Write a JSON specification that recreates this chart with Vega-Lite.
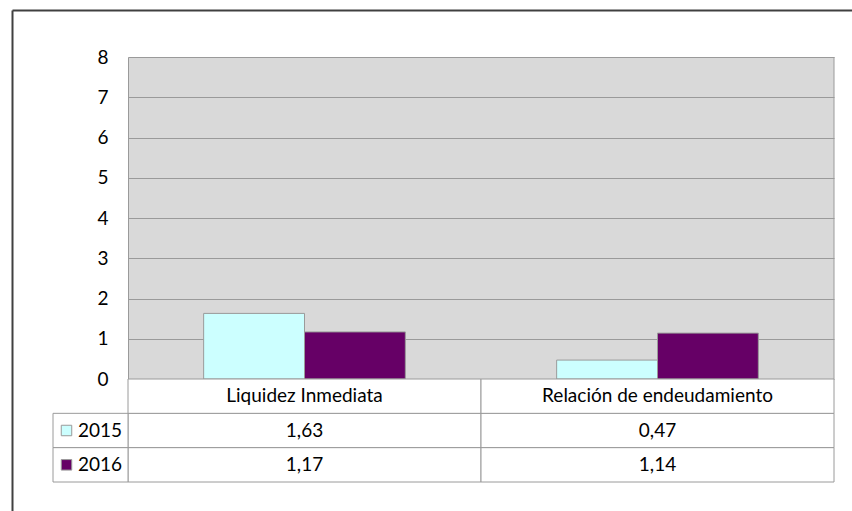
{
  "$schema": "https://vega.github.io/schema/vega-lite/v6.json",
  "width": 840,
  "height": 501,
  "autosize": {"type": "none"},
  "padding": {"left": 12, "top": 10, "right": 0, "bottom": 0},
  "background": "white",
  "config": {
    "view": {"stroke": null, "fill": "white"},
    "font": "Lato",
    "locale": {"number": {"decimal": ",", "thousands": ".", "grouping": [3], "currency": ["", " €"]}},
    "text": {"font": "Lato", "fontSize": 19, "color": "black"}
  },
  "datasets": {
    "vals": [
      {"category": "Liquidez Inmediata", "year": "2015", "value": 1.63},
      {"category": "Liquidez Inmediata", "year": "2016", "value": 1.17},
      {"category": "Relación de endeudamiento", "year": "2015", "value": 0.47},
      {"category": "Relación de endeudamiento", "year": "2016", "value": 1.14}
    ]
  },
  "data": {"name": "vals"},
  "resolve": {
    "scale": {"x": "independent", "y": "independent"},
    "axis": {"x": "independent", "y": "independent"}
  },
  "layer": [
    {
      "data": {"values": [{}]},
      "mark": {"type": "point", "opacity": 0},
      "encoding": {
        "x": {
          "datum": 0, "type": "quantitative",
          "scale": {"domain": [0, 1], "nice": false},
          "axis": {"orient": "top", "domain": true, "domainColor": "#404040", "domainWidth": 2, "labels": false, "ticks": false, "grid": false, "title": null}
        },
        "y": {
          "datum": 0, "type": "quantitative",
          "scale": {"domain": [0, 1], "nice": false},
          "axis": {"orient": "left", "domain": true, "domainColor": "#404040", "domainWidth": 2, "labels": false, "ticks": false, "grid": false, "title": null}
        }
      }
    },
    {
      "layer": [
        {
          "mark": {"type": "bar", "stroke": "#9a9a9a", "strokeWidth": 1},
          "encoding": {
            "x": {
              "field": "category", "type": "nominal", "sort": null,
              "scale": {"domain": ["Liquidez Inmediata", "Relación de endeudamiento"], "range": [116, 822], "paddingInner": 0, "paddingOuter": 0},
              "axis": {"orient": "top", "grid": true, "gridWidth": 353, "gridColor": "#d9d9d9", "gridOpacity": 1, "bandPosition": 0.5, "labels": false, "ticks": false, "domain": false, "title": null}
            },
            "xOffset": {
              "field": "year", "type": "nominal",
              "scale": {"domain": ["2015", "2016"], "paddingInner": 0, "paddingOuter": 0.75}
            },
            "y": {
              "field": "value", "type": "quantitative",
              "scale": {"domain": [0, 8], "range": [369, 47], "nice": false, "zero": true},
              "axis": {"orient": "left", "values": [0, 1, 2, 3, 4, 5, 6, 7, 8], "format": "d", "grid": true, "gridColor": "#9a9a9a", "gridOpacity": 1, "ticks": false, "domain": true, "domainColor": "#9a9a9a", "labelPadding": 20, "labelFontSize": 19, "labelColor": "black", "labelFont": "Lato", "title": null, "offset": -116}
            },
            "color": {
              "field": "year", "type": "nominal",
              "scale": {"domain": ["2015", "2016"], "range": ["#ccffff", "#660066"]},
              "legend": null
            }
          }
        },
        {
          "data": {"values": [{}]},
          "mark": {"type": "rule", "color": "#9a9a9a", "strokeWidth": 1},
          "encoding": {
            "x": {"datum": "Relación de endeudamiento", "type": "nominal", "bandPosition": 1},
            "y": {"datum": 0, "type": "quantitative"},
            "y2": {"datum": 8}
          }
        }
      ]
    },
    {
      "encoding": {
        "x": {
          "field": "category", "type": "nominal", "sort": null,
          "scale": {"domain": ["Liquidez Inmediata", "Relación de endeudamiento"], "range": [116, 822], "paddingInner": 0, "paddingOuter": 0},
          "axis": null
        }
      },
      "layer": [
        {
          "mark": {"type": "rect", "fill": "white", "stroke": "#9a9a9a", "strokeWidth": 1},
          "encoding": {
            "y": {"field": "year", "type": "nominal", "scale": {"domain": ["cat", "2015", "2016"], "range": [369, 472], "paddingInner": 0, "paddingOuter": 0}, "axis": null}
          }
        },
        {
          "transform": [{"aggregate": [{"op": "count", "as": "n"}], "groupby": ["category"]}],
          "mark": {"type": "rect", "fill": "white", "stroke": "#9a9a9a", "strokeWidth": 1},
          "encoding": {
            "y": {"datum": "cat", "type": "nominal"}
          }
        },
        {
          "mark": {"type": "text", "fontSize": 19},
          "encoding": {
            "y": {"field": "year", "type": "nominal"},
            "text": {"field": "value", "type": "quantitative", "format": ".2f"}
          }
        },
        {
          "transform": [{"aggregate": [{"op": "count", "as": "n"}], "groupby": ["category"]}],
          "mark": {"type": "text", "fontSize": 19},
          "encoding": {
            "y": {"datum": "cat", "type": "nominal"},
            "text": {"field": "category", "type": "nominal"}
          }
        }
      ]
    },
    {
      "transform": [{"aggregate": [{"op": "count", "as": "n"}], "groupby": ["year"]}],
      "encoding": {
        "y": {"field": "year", "type": "nominal", "scale": {"domain": ["cat", "2015", "2016"], "range": [369, 472], "paddingInner": 0, "paddingOuter": 0}, "axis": null}
      },
      "layer": [
        {
          "mark": {"type": "rect", "fill": "white", "stroke": "#9a9a9a", "strokeWidth": 1},
          "encoding": {
            "x": {"datum": "lbl", "type": "nominal", "scale": {"domain": ["lbl"], "range": [41, 116], "paddingInner": 0, "paddingOuter": 0}, "axis": null}
          }
        },
        {
          "mark": {"type": "square", "size": 110, "stroke": "#9a9a9a", "strokeWidth": 1, "opacity": 1},
          "encoding": {
            "x": {"datum": "lbl", "type": "nominal", "bandPosition": 0.18},
            "color": {"field": "year", "type": "nominal", "legend": null}
          }
        },
        {
          "mark": {"type": "text", "align": "left", "fontSize": 19},
          "encoding": {
            "x": {"datum": "lbl", "type": "nominal", "bandPosition": 0.333},
            "text": {"field": "year", "type": "nominal"}
          }
        }
      ]
    }
  ]
}
